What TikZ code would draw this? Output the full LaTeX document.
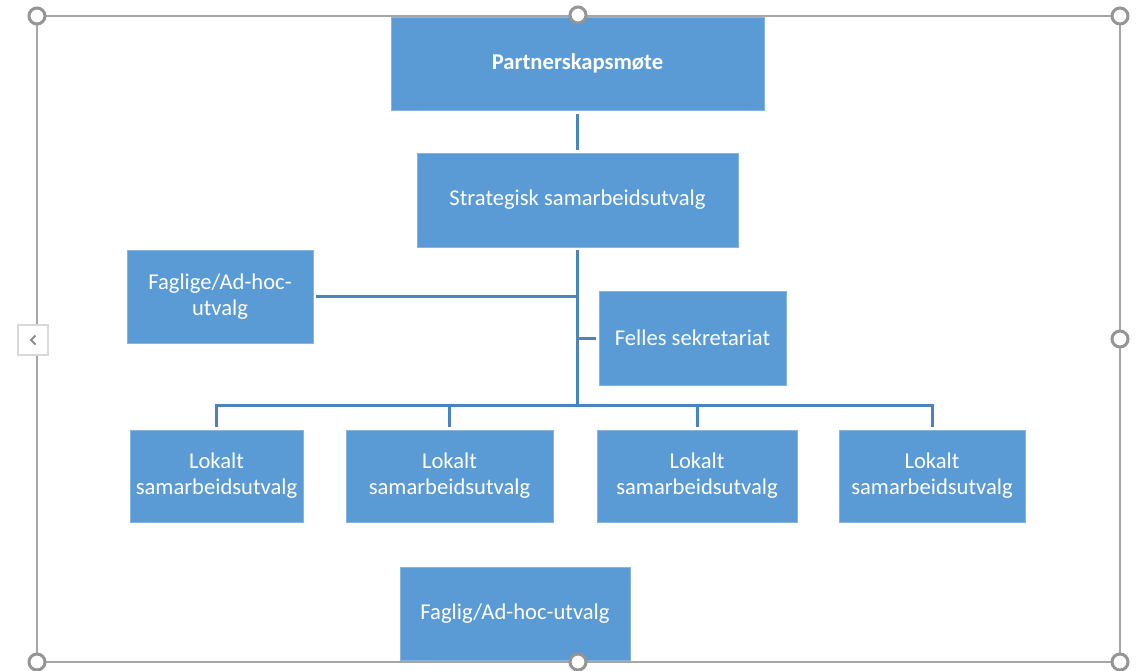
\documentclass[tikz,border=0pt]{standalone}
\usepackage{fontspec}
\setmainfont{Carlito}
\definecolor{boxblue}{HTML}{5B9BD5}
\definecolor{connblue}{HTML}{4A84BF}
\definecolor{framegrey}{HTML}{A6A6A6}
\begin{document}
\begin{tikzpicture}[x=1pt,y=-1pt,
  orgbox/.style={fill=boxblue,draw=boxblue!75!white,line width=0.8pt,text=white,
    align=center,font=\fontsize{22.6}{26}\selectfont,inner sep=0pt},
  conn/.style={draw=connblue,line width=3pt},
  handle/.style={circle,draw=framegrey!90!black,fill=white,line width=3pt,minimum size=16pt,inner sep=0pt}]
\useasboundingbox (0,0) rectangle (1140,670);
% selection frame
\draw[framegrey,line width=2pt] (37,16) rectangle (1120,662);
% boxes
\node[orgbox,minimum width=373pt,minimum height=93pt,font=\fontsize{22.6}{26}\selectfont\bfseries] (p) at (577.5,63.5) {Partnerskapsmøte};
\node[orgbox,minimum width=321pt,minimum height=94pt] (s) at (577.5,200) {Strategisk samarbeidsutvalg};
\node[orgbox,minimum width=186pt,minimum height=93pt] (fa) at (220,296.5) {Faglige/Ad-hoc-\\utvalg};
\node[orgbox,minimum width=187pt,minimum height=94pt] (fs) at (692.5,338) {Felles sekretariat};
\node[orgbox,minimum width=173pt,minimum height=92pt] (l1) at (216.5,476) {Lokalt\\samarbeidsutvalg};
\node[orgbox,minimum width=207pt,minimum height=92pt] (l2) at (449.5,476) {Lokalt\\samarbeidsutvalg};
\node[orgbox,minimum width=200pt,minimum height=92pt] (l3) at (697,476) {Lokalt\\samarbeidsutvalg};
\node[orgbox,minimum width=186pt,minimum height=92pt] (l4) at (932,476) {Lokalt\\samarbeidsutvalg};
\node[orgbox,minimum width=230pt,minimum height=93pt] (fh) at (515,613.5) {Faglig/Ad-hoc-utvalg};
% connectors
\coordinate (bus) at (578,405);
\draw[conn,shorten <=4pt,shorten >=3pt] (p.south) -- (s.north);
\draw[conn,shorten <=3pt] (s.south) -- (s.south |- bus);
\draw[conn,shorten >=3pt] (s.south |- fa.east) -- (fa.east);
\draw[conn,shorten >=3pt] (s.south |- fs.west) -- (fs.west);
\draw[conn] ([xshift=-1.5pt]l1.north |- bus) -- ([xshift=1.5pt]l4.north |- bus);
\foreach \n in {l1,l2,l3,l4}{
  \draw[conn,shorten >=3pt] (\n.north |- bus) -- (\n.north);
}
% handles
\foreach \hx/\hy [count=\i] in {37/16,578/15,1120/16,1120/339,1120/662,578/662,37/662}{
  \node[handle] (h\i) at (\hx,\hy) {};
}
% collapse button
\node[draw=black!15,fill=white,line width=1.5pt,minimum size=30pt,inner sep=0pt] (btn) at (33,340) {};
\draw[black!45,line width=2pt] ([xshift=2.5pt,yshift=-4.5pt]btn.center) -- ([xshift=-2pt]btn.center) -- ([xshift=2.5pt,yshift=4.5pt]btn.center);
\end{tikzpicture}
\end{document}
